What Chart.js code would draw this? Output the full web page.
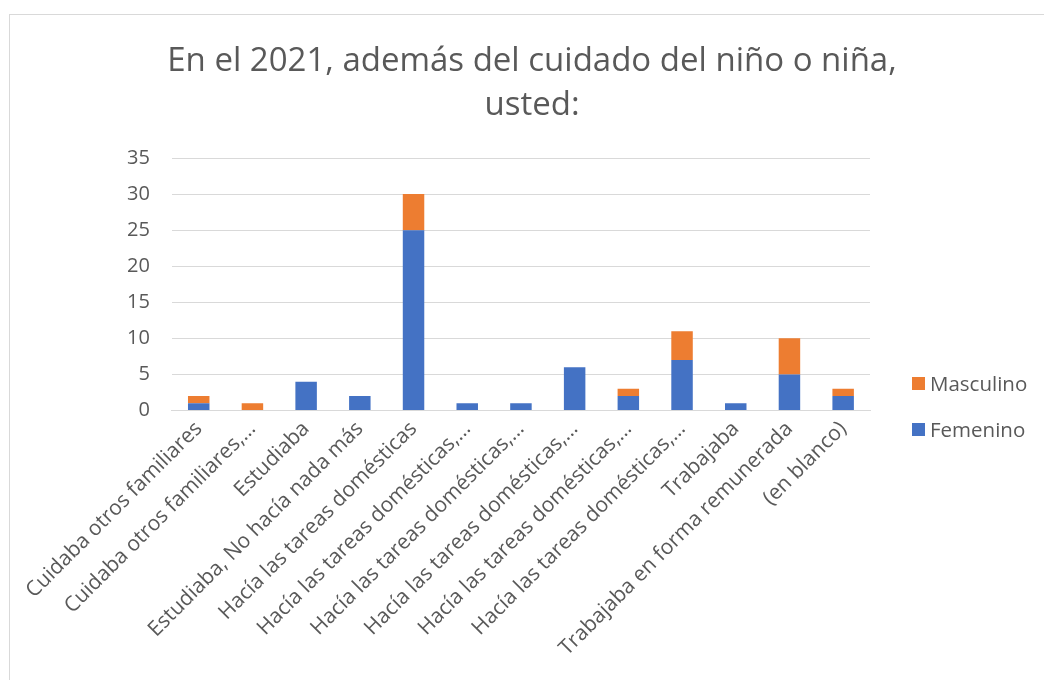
<!DOCTYPE html>
<html>
<head>
<meta charset="utf-8">
<script src="https://cdn.jsdelivr.net/npm/chart.js@4"></script>
<style>
    body { margin: 0; background: #fff; }
    #wrap { position: relative; width: 1044px; height: 680px; overflow: hidden; }
    #frame { position: absolute; left: 9px; top: 14px; width: 1100px; height: 700px; border: 1px solid #d9d9d9; }
    #chart { position: absolute; left: 0; top: 0; }
    #titulo { position: absolute; left: 10px; top: 37px; width: 1044px; text-align: center;
              font-family: "Open Sans", sans-serif; font-size: 33px; line-height: 44px; color: #595959; }
    .legend { position: absolute; left: 912px; font-family: "Open Sans", sans-serif; font-size: 20.5px; color: #595959; }
    .legend span.box { display: inline-block; width: 13px; height: 13px; margin-right: 5px; vertical-align: 1px; }
</style>
</head>
<body>
<div id="wrap">
    <div id="frame"></div>
    <canvas id="chart" width="1044" height="680"></canvas>
    <div id="titulo">En el 2021, además del cuidado del niño o niña,<br>usted:</div>
    <div class="legend" style="top: 369px;"><span class="box" style="background:#ED7D31"></span>Masculino</div>
    <div class="legend" style="top: 415px;"><span class="box" style="background:#4472C4"></span>Femenino</div>
</div>
<script>
// categorías y valores
const categorias = [
    'Cuidaba otros familiares',
    'Cuidaba otros familiares,…',
    'Estudiaba',
    'Estudiaba, No hacía nada más',
    'Hacía las tareas domésticas',
    'Hacía las tareas domésticas,…',
    'Hacía las tareas domésticas,…',
    'Hacía las tareas domésticas,…',
    'Hacía las tareas domésticas,…',
    'Hacía las tareas domésticas,…',
    'Trabajaba',
    'Trabajaba en forma remunerada',
    '(en blanco)'
];
const femenino = [1, 0, 4, 2, 25, 1, 1, 6, 2, 7, 1, 5, 2];
const masculino = [1, 1, 0, 0, 5, 0, 0, 0, 1, 4, 0, 5, 1];
const yTicks = [0, 5, 10, 15, 20, 25, 30, 35];

const FONT = '"Open Sans", sans-serif';
const GRIS = '#595959';

new Chart(document.getElementById('chart'), {
    type: 'bar',
    data: {
        labels: categorias,
        datasets: [
            { label: 'Femenino', data: femenino, backgroundColor: '#4472C4', barPercentage: 0.4, categoryPercentage: 1 },
            { label: 'Masculino', data: masculino, backgroundColor: '#ED7D31', barPercentage: 0.4, categoryPercentage: 1 }
        ]
    },
    options: {
        responsive: false,
        animation: false,
        layout: { padding: { top: 158, right: 174, bottom: 17, left: 105 } },
        scales: {
            x: {
                stacked: true,
                grid: { display: false, drawTicks: false },
                border: { color: '#d9d9d9', width: 1 },
                ticks: {
                    color: GRIS,
                    font: { family: FONT, size: 21 },
                    minRotation: 45,
                    maxRotation: 45,
                    autoSkip: false,
                    padding: 6
                }
            },
            y: {
                stacked: true,
                min: 0,
                max: 35,
                afterBuildTicks: axis => { axis.ticks = yTicks.map(v => ({ value: v })); },
                grid: { color: '#d9d9d9', lineWidth: 1, drawTicks: false },
                border: { display: false },
                ticks: {
                    color: GRIS,
                    font: { family: FONT, size: 20 },
                    padding: 22
                }
            }
        },
        plugins: {
            legend: { display: false },
            tooltip: { enabled: false },
            title: { display: false }
        }
    }
});
</script>
</body>
</html>
